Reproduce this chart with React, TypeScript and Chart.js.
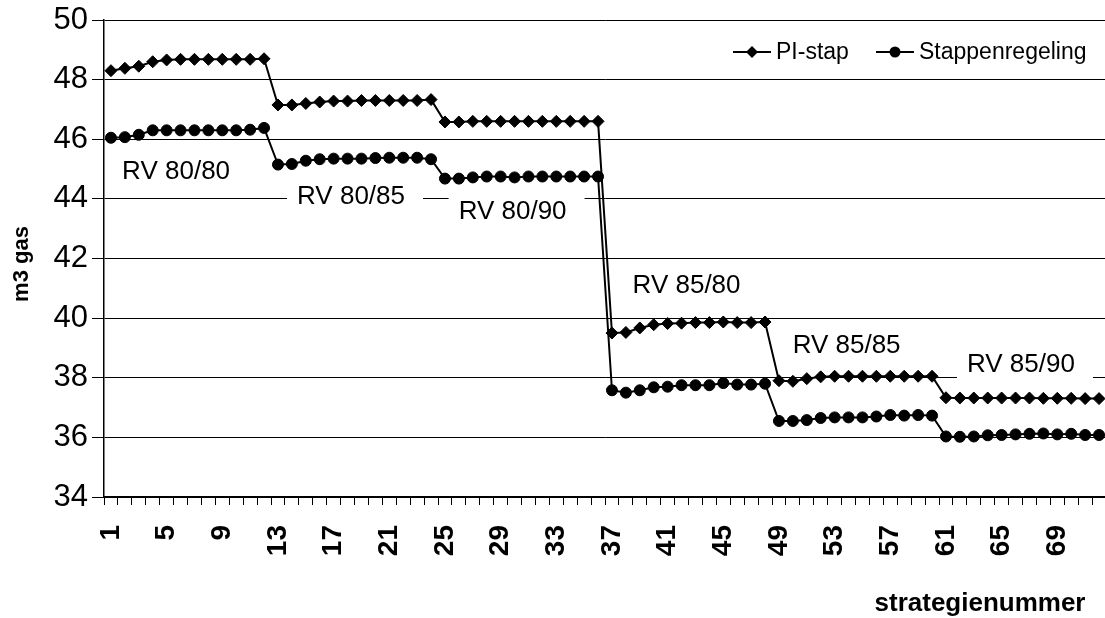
import React, { useEffect, useRef } from "react";
import { Chart, registerables } from "chart.js";

Chart.register(...registerables);

// Strategy numbers 1..72 (six regimes of 12 strategies each)
const strategies: string[] = Array.from({ length: 72 }, (_, i) => String(i + 1));

const piStap: number[] = [
  48.3, 48.38, 48.45, 48.6, 48.66, 48.68, 48.68, 48.68, 48.68, 48.68, 48.68, 48.7,
  47.15, 47.15, 47.2, 47.25, 47.28, 47.28, 47.3, 47.3, 47.3, 47.3, 47.3, 47.33,
  46.58, 46.58, 46.6, 46.6, 46.6, 46.6, 46.6, 46.6, 46.6, 46.6, 46.6, 46.6,
  39.5, 39.52, 39.67, 39.78, 39.82, 39.83, 39.85, 39.85, 39.87, 39.85, 39.85, 39.87,
  37.9, 37.88, 37.97, 38.03, 38.05, 38.05, 38.05, 38.05, 38.05, 38.05, 38.05, 38.05,
  37.33, 37.32, 37.32, 37.32, 37.32, 37.32, 37.32, 37.31, 37.31, 37.31, 37.3, 37.3,
];

const stappenregeling: number[] = [
  46.05, 46.07, 46.15, 46.3, 46.3, 46.3, 46.3, 46.3, 46.3, 46.3, 46.32, 46.38,
  45.15, 45.17, 45.28, 45.33, 45.35, 45.35, 45.35, 45.37, 45.38, 45.38, 45.38, 45.33,
  44.68, 44.68, 44.72, 44.75, 44.75, 44.72, 44.75, 44.75, 44.75, 44.75, 44.75, 44.75,
  37.58, 37.5, 37.58, 37.68, 37.7, 37.75, 37.75, 37.75, 37.82, 37.77, 37.77, 37.8,
  36.55, 36.55, 36.58, 36.65, 36.67, 36.67, 36.67, 36.7, 36.75, 36.73, 36.75, 36.73,
  36.03, 36.02, 36.03, 36.07, 36.08, 36.1, 36.12, 36.13, 36.1, 36.12, 36.08, 36.08,
];

const seriesNames: string[] = ["PI-stap", "Stappenregeling"];
const regimeNames: string[] = ["RV 80/80", "RV 80/85", "RV 80/90", "RV 85/80", "RV 85/85", "RV 85/90"];

const FONT = "'Liberation Sans', Arial, Helvetica, sans-serif";

// Where each regime caption sits, in axis units (category index, m3 gas)
const regimeAnchors = [
  { idx: 4.68, v: 44.93 },
  { idx: 17.25, v: 44.09 },
  { idx: 28.86, v: 43.59 },
  { idx: 41.36, v: 41.11 },
  { idx: 52.86, v: 39.1 },
  { idx: 65.39, v: 38.46 },
];

const regimeCaptions = {
  id: "regimeCaptions",
  beforeDatasetsDraw(chart: any) {
    const { ctx, scales } = chart;
    ctx.save();
    ctx.font = `26px ${FONT}`;
    ctx.textBaseline = "middle";
    ctx.textAlign = "center";
    regimeNames.forEach((name, i) => {
      const a = regimeAnchors[i];
      const x = scales.x.getPixelForValue(a.idx);
      const y = scales.y.getPixelForValue(a.v);
      const w = ctx.measureText(name).width;
      ctx.fillStyle = "#fff";
      ctx.fillRect(x - w / 2 - 10, y - 14, w + 28, 30);
      ctx.fillStyle = "#000";
      ctx.fillText(name, x, y + 1);
    });
    ctx.restore();
  },
};

function drawMarker(ctx: CanvasRenderingContext2D, style: string, x: number, y: number) {
  ctx.beginPath();
  if (style === "rectRot") {
    const r = 6;
    ctx.moveTo(x, y - r);
    ctx.lineTo(x + r, y);
    ctx.lineTo(x, y + r);
    ctx.lineTo(x - r, y);
    ctx.closePath();
  } else {
    ctx.arc(x, y, 5.5, 0, Math.PI * 2);
  }
  ctx.fill();
}

const sideTexts = {
  id: "sideTexts",
  afterDraw(chart: any) {
    const { ctx } = chart;
    ctx.save();
    ctx.fillStyle = "#000";
    ctx.strokeStyle = "#000";

    // legend inside the plot, top right
    const legendItems = [
      { name: seriesNames[0], style: "rectRot", x0: 733 },
      { name: seriesNames[1], style: "circle", x0: 876 },
    ];
    const ly = 52;
    ctx.font = `23px ${FONT}`;
    ctx.textBaseline = "middle";
    ctx.textAlign = "left";
    legendItems.forEach((it) => {
      ctx.lineWidth = 2;
      ctx.beginPath();
      ctx.moveTo(it.x0, ly);
      ctx.lineTo(it.x0 + 38, ly);
      ctx.stroke();
      drawMarker(ctx, it.style, it.x0 + 19, ly);
      ctx.fillText(it.name, it.x0 + 43, ly + 1);
    });

    // axis titles
    ctx.font = `bold 22px ${FONT}`;
    ctx.textAlign = "center";
    ctx.save();
    ctx.translate(22, 264);
    ctx.rotate(-Math.PI / 2);
    ctx.fillText("m3 gas", 0, 0);
    ctx.restore();

    ctx.font = `bold 26px ${FONT}`;
    ctx.fillText("strategienummer", 980, 604);
    ctx.restore();
  },
};

export default function App() {
  const canvasRef = useRef<HTMLCanvasElement | null>(null);

  useEffect(() => {
    const canvas = canvasRef.current;
    if (!canvas) return;
    const chart = new Chart(canvas, {
      type: "line",
      data: {
        labels: strategies,
        datasets: [
          {
            label: seriesNames[0],
            data: piStap,
            borderColor: "#000",
            backgroundColor: "#000",
            borderWidth: 2,
            pointStyle: "rectRot",
            pointRadius: 6,
            pointBackgroundColor: "#000",
            pointBorderColor: "#000",
            pointBorderWidth: 1,
            tension: 0,
          },
          {
            label: seriesNames[1],
            data: stappenregeling,
            borderColor: "#000",
            backgroundColor: "#000",
            borderWidth: 2,
            pointStyle: "circle",
            pointRadius: 5.5,
            pointBackgroundColor: "#000",
            pointBorderColor: "#000",
            pointBorderWidth: 1,
            tension: 0,
          },
        ],
      },
      options: {
        responsive: false,
        animation: false,
        devicePixelRatio: 1,
        layout: { padding: { top: 20, right: 0, left: 0, bottom: 0 } },
        plugins: {
          legend: { display: false },
          tooltip: { enabled: false },
          title: { display: false },
        },
        scales: {
          x: {
            type: "category",
            offset: true,
            grid: {
              display: true,
              drawOnChartArea: false,
              drawTicks: true,
              tickLength: 8,
              color: "#000",
              lineWidth: 1,
              offset: true,
            },
            border: { display: true, color: "#000", width: 1.5 },
            ticks: {
              autoSkip: false,
              minRotation: 90,
              maxRotation: 90,
              padding: 20,
              color: "#000",
              font: { family: FONT, size: 28, weight: "bold" },
              callback: (_v: any, i: number) => (i % 4 === 0 ? strategies[i] : ""),
            },
            afterFit: (scale: any) => {
              scale.height = 121;
              scale.paddingLeft = 0;
              scale.paddingRight = 0;
            },
          },
          y: {
            min: 34,
            max: 50,
            grid: {
              color: "#000",
              lineWidth: 1,
              drawTicks: true,
              tickLength: 12,
            },
            border: { display: true, color: "#000", width: 1.5 },
            ticks: {
              stepSize: 2,
              padding: 4,
              color: "#000",
              font: { family: FONT, size: 31 },
            },
            afterFit: (scale: any) => {
              scale.width = 104;
              scale.paddingTop = 0;
              scale.paddingBottom = 0;
            },
          },
        },
      },
      plugins: [regimeCaptions, sideTexts],
    });
    return () => chart.destroy();
  }, []);

  // The plot runs on past the right edge of the frame, so the canvas is a little wider
  return (
    <div
      style={{
        position: "fixed",
        left: 0,
        top: 0,
        width: 1105,
        height: 618,
        background: "#fff",
        overflow: "hidden",
      }}
    >
      <canvas ref={canvasRef} width={1113} height={618} style={{ display: "block" }} />
    </div>
  );
}
